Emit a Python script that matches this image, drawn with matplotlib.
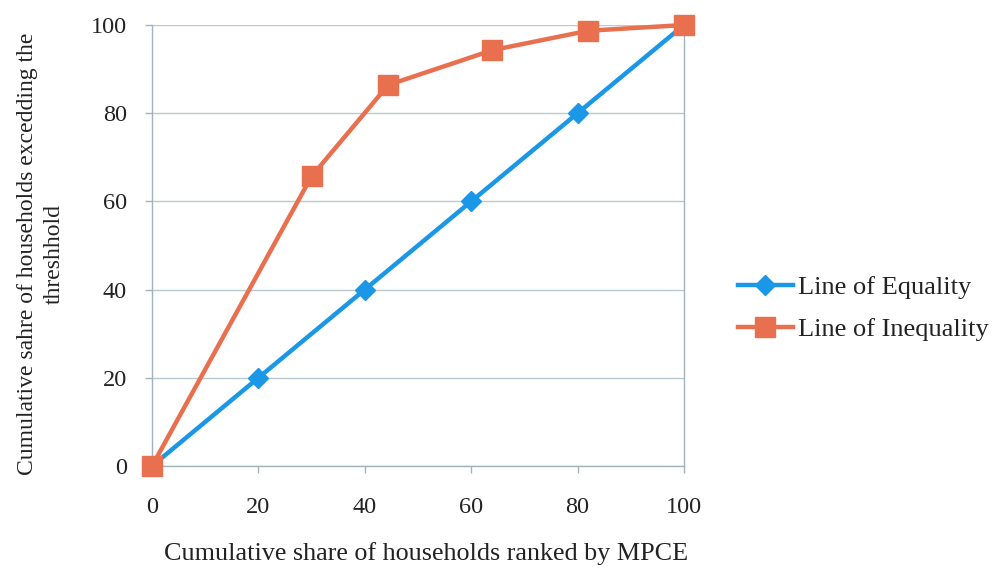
import matplotlib
matplotlib.use("Agg")
import matplotlib.pyplot as plt
from matplotlib.lines import Line2D

plt.rcParams['font.family'] = ['Liberation Serif', 'DejaVu Serif']

# Lorenz-style curves
equality_x = [0, 20, 40, 60, 80, 100]
equality_y = [0, 20, 40, 60, 80, 100]
inequality_x = [0, 30, 44.4, 64, 82, 100]
inequality_y = [0, 65.7, 86.4, 94.3, 98.7, 100]

x_ticks = [0, 20, 40, 60, 80, 100]
y_ticks = [0, 20, 40, 60, 80, 100]

blue = '#1a97e6'
orange = '#e8704f'
grid_c = '#b9c9d1'
axis_c = '#a3b3bb'
text_c = '#222222'

fig = plt.figure(figsize=(9.95, 5.71), dpi=100)
ax = fig.add_axes([0.1528, 0.1839, 0.5346, 0.7723])

eq_style = dict(color=blue, lw=3.2, marker='D', ms=10, markeredgecolor=blue)
ineq_style = dict(color=orange, lw=3.2, marker='s', ms=14, markeredgecolor=orange)

ax.plot(equality_x, equality_y, label='Line of Equality', zorder=3,
        clip_on=False, **eq_style)
ax.plot(inequality_x, inequality_y, label='Line of Inequality', zorder=4,
        clip_on=False, **ineq_style)

ax.set_xlim(0, 100)
ax.set_ylim(0, 100)
ax.set_xticks(x_ticks)
ax.set_yticks(y_ticks)
ax.set_xticklabels([str(v) for v in x_ticks])
ax.set_yticklabels([str(v) for v in y_ticks])
ax.grid(axis='y', color=grid_c, lw=1.0, zorder=0)
for s in ax.spines.values():
    s.set_color(axis_c)
    s.set_linewidth(1.0)
ax.spines['top'].set_visible(False)
ax.tick_params(axis='both', colors=axis_c, labelcolor=text_c,
               labelsize=17.5, length=5, width=1.0)
ax.tick_params(axis='x', pad=17)
ax.tick_params(axis='y', pad=13)

fig.text(0.428, 0.03, 'Cumulative share of households ranked by MPCE',
         ha='center', va='center', fontsize=18.8, color=text_c)
fig.text(0.041, 0.555, 'Cumulative sahre of households excedding the\nthreshhold',
         rotation=90, ha='center', va='center', fontsize=17,
         color=text_c, linespacing=1.35)

handles = [Line2D([], [], **eq_style), Line2D([], [], **ineq_style)]
fig.legend(handles, ['Line of Equality', 'Line of Inequality'],
           loc='center left', bbox_to_anchor=(0.7417, 0.4597), frameon=False,
           borderpad=0, borderaxespad=0,
           fontsize=19, handlelength=2.08, handletextpad=0.2,
           labelspacing=0.7, labelcolor=text_c)

fig.savefig('out.png', dpi=100, facecolor='white')
